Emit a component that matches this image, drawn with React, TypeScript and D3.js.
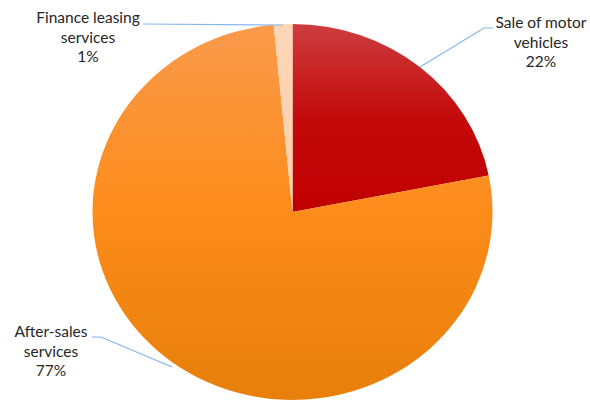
import React from "react";
import * as d3 from "d3";

const categories = ["Sale of motor vehicles", "After-sales services", "Finance leasing services"];
const values = [21.9, 76.6, 1.5];
const percentLabels = ["22%", "77%", "1%"];
const labelLines = [["Sale of motor", "vehicles"], ["After-sales", "services"], ["Finance leasing", "services"]];

const W = 590, H = 401;
const cx = 292.5, cy = 212, rx = 200, ry = 188;

export default function App() {
  const pie = d3.pie<number>().sort(null).startAngle(0).endAngle(2 * Math.PI);
  const arcs = pie(values);
  const arc = d3.arc<d3.PieArcDatum<number>>().innerRadius(0).outerRadius(rx);
  const fills = ["url(#gRed)", "url(#gOrange)", "url(#gPeach)"];

  const labelPos = [
    { x: 541, y: 28, leader: [[493, 28], [484, 28], [420, 67]] },
    { x: 51, y: 337, leader: [[92, 337], [101, 337], [172, 367]] },
    { x: 88, y: 23, leader: [[143, 24], [283, 25]] },
  ];
  const line = d3.line();

  return (
    <svg width={W} height={H} style={{ position: "absolute", left: 0, top: 0, background: "#fff" }}>
      <defs>
        <linearGradient id="gRed" gradientUnits="userSpaceOnUse" x1="0" y1={-rx} x2="0" y2={0}>
          <stop offset="0" stopColor="#cd3d3f" />
          <stop offset="0.5" stopColor="#c30a0b" />
          <stop offset="1" stopColor="#c00000" />
        </linearGradient>
        <linearGradient id="gOrange" gradientUnits="userSpaceOnUse" x1="0" y1={-rx} x2="0" y2={rx}>
          <stop offset="0" stopColor="#f99a4c" />
          <stop offset="0.5" stopColor="#fd8c1a" />
          <stop offset="1" stopColor="#e77f0a" />
        </linearGradient>
        <linearGradient id="gPeach" gradientUnits="userSpaceOnUse" x1="0" y1={-rx} x2="0" y2={0}>
          <stop offset="0" stopColor="#fdd6b6" />
          <stop offset="1" stopColor="#fcd0ab" />
        </linearGradient>
      </defs>
      <g transform={`translate(${cx},${cy}) scale(1,${ry / rx})`}>
        {arcs.map((a, i) => (
          <path key={categories[i]} d={arc(a) || ""} fill={fills[i]} />
        ))}
      </g>
      {labelPos.map((p, i) => (
        <g key={"l" + i}>
          <path d={line(p.leader as [number, number][]) || ""} fill="none" stroke="#85b5ee" strokeWidth={1.2} />
          <text textAnchor="middle" fontFamily="Lato, 'Open Sans', sans-serif" fontSize={15.5} fill="#262626">
            <tspan x={p.x} y={p.y}>{labelLines[i][0]}</tspan>
            <tspan x={p.x} y={p.y + 19.5}>{labelLines[i][1]}</tspan>
            <tspan x={p.x} y={p.y + 39}>{percentLabels[i]}</tspan>
          </text>
        </g>
      ))}
    </svg>
  );
}
